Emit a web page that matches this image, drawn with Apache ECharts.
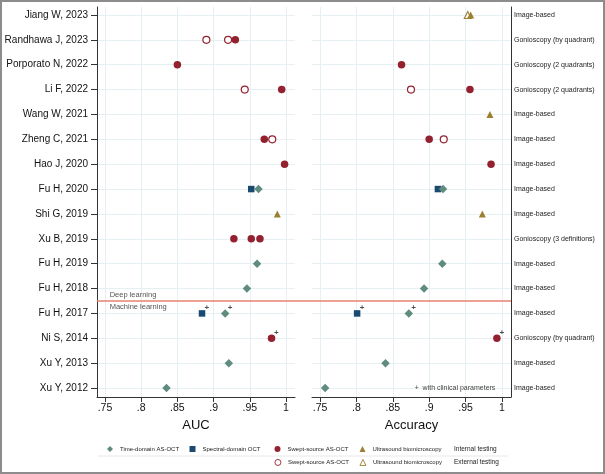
<!DOCTYPE html>
<html>
<head>
<meta charset="utf-8">
<script src="https://cdn.jsdelivr.net/npm/echarts@6/dist/echarts.min.js"></script>
<style>
html,body{margin:0;padding:0;background:#fff;}
#chart{width:605px;height:474px;}
</style>
</head>
<body>
<div id="chart"></div>
<script>
// ---------- data ----------
const studies = ['Jiang W, 2023', 'Randhawa J, 2023', 'Porporato N, 2022', 'Li F, 2022', 'Wang W, 2021',
  'Zheng C, 2021', 'Hao J, 2020', 'Fu H, 2020', 'Shi G, 2019', 'Xu B, 2019', 'Fu H, 2019', 'Fu H, 2018',
  'Fu H, 2017', 'Ni S, 2014', 'Xu Y, 2013', 'Xu Y, 2012'];
const references = ['Image-based', 'Gonioscopy (by quadrant)', 'Gonioscopy (2 quadrants)', 'Gonioscopy (2 quadrants)',
  'Image-based', 'Image-based', 'Image-based', 'Image-based', 'Image-based', 'Gonioscopy (3 definitions)',
  'Image-based', 'Image-based', 'Image-based', 'Gonioscopy (by quadrant)', 'Image-based', 'Image-based'];
const xTicks = [0.75, 0.8, 0.85, 0.9, 0.95, 1];

const aucTimeDomain = [['Fu H, 2020', 0.962], ['Fu H, 2019', 0.960], ['Fu H, 2018', 0.946], ['Fu H, 2017', 0.916], ['Xu Y, 2013', 0.921], ['Xu Y, 2012', 0.835]];
const aucSpectral = [['Fu H, 2020', 0.952], ['Fu H, 2017', 0.884]];
const aucSweptInt = [['Randhawa J, 2023', 0.930], ['Porporato N, 2022', 0.850], ['Li F, 2022', 0.994], ['Zheng C, 2021', 0.970], ['Hao J, 2020', 0.998], ['Xu B, 2019', 0.928], ['Xu B, 2019', 0.952], ['Xu B, 2019', 0.964], ['Ni S, 2014', 0.980]];
const aucSweptExt = [['Randhawa J, 2023', 0.890], ['Randhawa J, 2023', 0.920], ['Li F, 2022', 0.943], ['Zheng C, 2021', 0.981]];
const aucUbmInt = [['Shi G, 2019', 0.988]];
const aucUbmExt = [];
const aucClinical = [['Fu H, 2017', 0.884], ['Fu H, 2017', 0.916], ['Ni S, 2014', 0.980]];

const accTimeDomain = [['Fu H, 2020', 0.919], ['Fu H, 2019', 0.918], ['Fu H, 2018', 0.893], ['Fu H, 2017', 0.872], ['Xu Y, 2013', 0.840], ['Xu Y, 2012', 0.757]];
const accSpectral = [['Fu H, 2020', 0.912], ['Fu H, 2017', 0.801]];
const accSweptInt = [['Porporato N, 2022', 0.862], ['Li F, 2022', 0.956], ['Zheng C, 2021', 0.900], ['Hao J, 2020', 0.985], ['Ni S, 2014', 0.993]];
const accSweptExt = [['Li F, 2022', 0.875], ['Zheng C, 2021', 0.920]];
const accUbmInt = [['Jiang W, 2023', 0.957], ['Wang W, 2021', 0.9835], ['Shi G, 2019', 0.973]];
const accUbmExt = [['Jiang W, 2023', 0.953]];
const accClinical = [['Fu H, 2017', 0.801], ['Fu H, 2017', 0.872], ['Ni S, 2014', 0.993]];

const legendNames = {
  td: 'Time-domain AS-OCT', sd: 'Spectral-domain OCT', ssInt: 'Swept-source AS-OCT',
  ubmInt: 'Ultrasound biomicroscopy', ssExt: 'Swept-source AS-OCT', ubmExt: 'Ultrasound biomicroscopy'
};
const dividerPosition = 12.5; // between Fu H, 2018 and Fu H, 2017
// ---------- end data ----------

const FONT = '"Liberation Sans", Arial, Helvetica, sans-serif';
const C_TD = '#5f8c7f', C_SD = '#1a4a70', C_SS = '#93212f', C_UBM = '#9c7f30';
const GRID_C = '#e6eff2';
const rows = studies.map((s, i) => i + 1);
const toPts = arr => arr.map(d => [d[1], studies.indexOf(d[0]) + 1]);

const styles = {
  sd: {symbol: 'rect', symbolSize: 6.5, itemStyle: {color: C_SD, opacity: 1}},
  td: {symbol: 'diamond', symbolSize: 8.5, itemStyle: {color: C_TD, opacity: 1}},
  ssExt: {symbol: 'circle', symbolSize: 7, itemStyle: {color: '#fff', borderColor: C_SS, borderWidth: 1.2, opacity: 1}},
  ssInt: {symbol: 'circle', symbolSize: 7.5, itemStyle: {color: C_SS, opacity: 1}},
  ubmExt: {symbol: 'triangle', symbolSize: 7, itemStyle: {color: '#fff', borderColor: C_UBM, borderWidth: 1.1, opacity: 1}},
  ubmInt: {symbol: 'triangle', symbolSize: 7, itemStyle: {color: C_UBM, opacity: 1}}
};
const panels = [
  {sd: aucSpectral, td: aucTimeDomain, ssExt: aucSweptExt, ssInt: aucSweptInt, ubmExt: aucUbmExt, ubmInt: aucUbmInt, clin: aucClinical},
  {sd: accSpectral, td: accTimeDomain, ssExt: accSweptExt, ssInt: accSweptInt, ubmExt: accUbmExt, ubmInt: accUbmInt, clin: accClinical}
];
const series = [];
panels.forEach((p, gi) => {
  ['sd', 'td', 'ssExt', 'ssInt', 'ubmExt', 'ubmInt'].forEach(k => {
    series.push(Object.assign({
      name: k, type: 'scatter', xAxisIndex: gi, yAxisIndex: gi,
      data: toPts(p[k]), z: 3, silent: true
    }, JSON.parse(JSON.stringify(styles[k]))));
  });
  series.push({
    name: 'clin' + gi, type: 'scatter', xAxisIndex: gi, yAxisIndex: gi, data: toPts(p.clin),
    symbolSize: 1, itemStyle: {color: 'rgba(0,0,0,0)'}, z: 4, silent: true,
    label: {show: true, formatter: '+', position: 'right', distance: 1, offset: [1, -6],
      fontSize: 8, color: '#222', fontFamily: FONT, fontWeight: 'bold'}
  });
});

const xAxisCommon = (gi, name) => ({
  gridIndex: gi, type: 'value', min: 0.739, max: 1.0124,
  name: name, nameLocation: 'middle', nameGap: 19,
  nameTextStyle: {fontSize: 13, color: '#111', fontFamily: FONT},
  axisLine: {show: true, lineStyle: {color: '#333', width: 1}},
  axisTick: {show: true, length: 5, customValues: xTicks, lineStyle: {color: '#333'}},
  axisLabel: {customValues: xTicks, formatter: v => (v === 1 ? '1' : String(v).replace('0.', '.')),
    fontSize: 10.5, color: '#111', margin: 6, fontFamily: FONT},
  splitLine: {show: true, lineStyle: {color: GRID_C, width: 1}}
});

const legendDefs = [
  {key: 'td', left: 107, top: 446},
  {key: 'sd', left: 189.5, top: 446},
  {key: 'ssInt', left: 274.5, top: 446},
  {key: 'ubmInt', left: 359.5, top: 446},
  {key: 'ssExt', left: 274.5, top: 459, open: true},
  {key: 'ubmExt', left: 359.5, top: 459, open: true}
];
const legends = legendDefs.map(d => {
  const l = {
    data: [d.key], left: d.left, top: d.top, padding: 0, itemWidth: 6, itemHeight: 6, itemGap: 0,
    selectedMode: false, formatter: n => legendNames[n],
    textStyle: {fontSize: 6, color: '#222', fontFamily: FONT, padding: [0, 0, 0, 2]}
  };
  if (d.open) l.itemStyle = {borderWidth: 0.9};
  return l;
});

const option = {
  animation: false,
  backgroundColor: '#fff',
  grid: [
    {left: 97, right: 310, top: 7, bottom: 77},
    {left: 312, right: 94, top: 7, bottom: 77}
  ],
  xAxis: [xAxisCommon(0, 'AUC'), xAxisCommon(1, 'Accuracy')],
  yAxis: [
    {gridIndex: 0, type: 'value', inverse: true, min: 0.68, max: 16.36,
      axisLine: {show: true, lineStyle: {color: '#333', width: 1}},
      axisTick: {show: true, length: 6, customValues: rows, lineStyle: {color: '#333'}},
      axisLabel: {customValues: rows, formatter: v => studies[Math.round(v) - 1], fontSize: 10, color: '#111', margin: 9, fontFamily: FONT},
      splitLine: {show: true, lineStyle: {color: GRID_C, width: 1}}},
    {gridIndex: 1, type: 'value', inverse: true, min: 0.68, max: 16.36, position: 'right',
      axisLine: {show: true, lineStyle: {color: '#333', width: 1}},
      axisTick: {show: false, customValues: rows},
      axisLabel: {customValues: rows, formatter: v => references[Math.round(v) - 1], fontSize: 7, color: '#222', margin: 3, fontFamily: FONT},
      splitLine: {show: true, lineStyle: {color: GRID_C, width: 1}}}
  ],
  legend: legends,
  series: series
};

const chart = echarts.init(document.getElementById('chart'), null, {renderer: 'canvas'});
chart.setOption(option);

// decorations positioned through the axes
const pL = chart.convertToPixel({gridIndex: 0}, [0.739, dividerPosition]);
const pR = chart.convertToPixel({gridIndex: 1}, [1.0124, dividerPosition]);
const pDL = chart.convertToPixel({gridIndex: 0}, [0.7565, dividerPosition - 0.25]);
const pML = chart.convertToPixel({gridIndex: 0}, [0.7565, dividerPosition + 0.25]);
const pNote = chart.convertToPixel({gridIndex: 1}, [0.88, 16]);
chart.setOption({
  graphic: [
    {type: 'rect', shape: {x: 1, y: 1, width: 603, height: 472}, style: {fill: 'none', stroke: '#8c8c8c', lineWidth: 2}, silent: true},
    {type: 'line', shape: {x1: pL[0], y1: pL[1], x2: pR[0], y2: pR[1]}, style: {stroke: '#e8806e', lineWidth: 1.3}, z: 5},
    {type: 'text', x: pDL[0], y: pDL[1], style: {text: 'Deep learning', fontSize: 7.5, fill: '#555', fontFamily: FONT, textVerticalAlign: 'middle'}},
    {type: 'text', x: pML[0], y: pML[1], style: {text: 'Machine learning', fontSize: 7.5, fill: '#555', fontFamily: FONT, textVerticalAlign: 'middle'}},
    {type: 'text', x: pNote[0], y: pNote[1], style: {text: '+  with clinical parameters', fontSize: 7, fill: '#444', fontFamily: FONT, textVerticalAlign: 'middle'}},
    {type: 'line', shape: {x1: 98, y1: 456, x2: 508, y2: 456}, style: {stroke: '#e2e2e2', lineWidth: 0.8}},
    {type: 'text', x: 454, y: 449, style: {text: 'Internal testing', fontSize: 6.5, fill: '#222', fontFamily: FONT, textVerticalAlign: 'middle'}},
    {type: 'text', x: 454, y: 462, style: {text: 'External testing', fontSize: 6.5, fill: '#222', fontFamily: FONT, textVerticalAlign: 'middle'}}
  ]
});
</script>
</body>
</html>
